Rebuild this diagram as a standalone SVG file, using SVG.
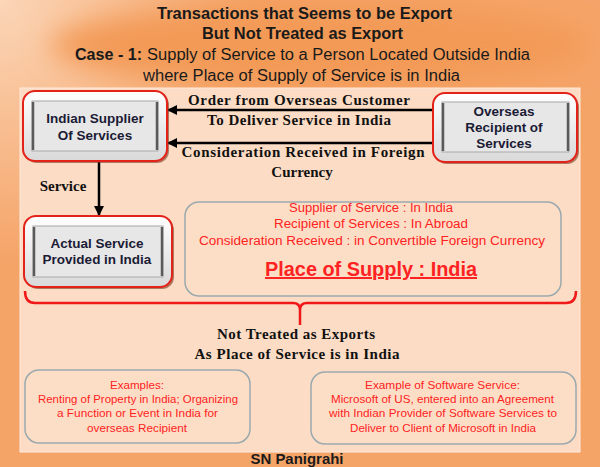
<svg xmlns="http://www.w3.org/2000/svg" width="600" height="467" viewBox="0 0 600 467">
<defs>
  <radialGradient id="bgTL" cx="0" cy="0" r="260" gradientUnits="userSpaceOnUse">
    <stop offset="0" stop-color="#FBD6B8"/>
    <stop offset="1" stop-color="#FBD6B8" stop-opacity="0"/>
  </radialGradient>
  <linearGradient id="nodeOuter" x1="0" y1="0" x2="0" y2="1">
    <stop offset="0" stop-color="#FFFFFF"/>
    <stop offset="1" stop-color="#D9D9D9"/>
  </linearGradient>
  <marker id="ah" markerWidth="10" markerHeight="10" refX="9" refY="5" orient="auto" markerUnits="userSpaceOnUse">
    <path d="M0,0 L10,5 L0,10 Z" fill="#000"/>
  </marker>
  <filter id="blur" x="-30%" y="-80%" width="160%" height="260%">
    <feGaussianBlur stdDeviation="14"/>
  </filter>
</defs>
<style>
  .title { font-family: "Liberation Sans", Arial, sans-serif; font-size: 16px; fill: #1a1a1a; }
  .tb { font-weight: bold; }
  .outer { fill: url(#nodeOuter); stroke: #E3221A; stroke-width: 2; }
  .shadow { fill: #7A3A22; opacity: 0.6; }
  .inner { fill: #E7E7E7; stroke: #A8A8A8; stroke-width: 1; }
  .edge { stroke: #5A5A5A; stroke-width: 2.5; }
  .ntext { font-family: "Liberation Sans", Arial, sans-serif; font-size: 13.5px; font-weight: bold; fill: #1B1B35; text-anchor: middle; }
  .serif { font-family: "Liberation Serif", "Times New Roman", serif; font-size: 15px; font-weight: bold; fill: #111; text-anchor: middle; }
  .conn { stroke: #000; stroke-width: 2.5; fill: none; }
  .box { fill: #FCE0CA; fill-opacity: 0.4; stroke: #9AA9AE; stroke-width: 1.5; }
  .red { font-family: "Liberation Sans", Arial, sans-serif; fill: #FF2222; text-anchor: middle; }
  .r13 { font-size: 12.5px; }
  .r11 { font-size: 11px; }
</style>

<!-- background -->
<rect x="0" y="0" width="600" height="467" fill="#F5A468"/>
<rect x="0" y="0" width="600" height="467" fill="url(#bgTL)"/>
<ellipse cx="320" cy="45" rx="270" ry="42" fill="#F39A57" filter="url(#blur)"/>
<rect x="20" y="88" width="560" height="364" fill="#FCDCC4" stroke="#FDE9DA" stroke-width="1"/>

<!-- title -->
<g id="title">
  <text class="title tb" x="304.5" y="19" text-anchor="middle" textLength="295" lengthAdjust="spacingAndGlyphs">Transactions that Seems to be Export</text>
  <text class="title tb" x="302.5" y="39" text-anchor="middle" textLength="201" lengthAdjust="spacingAndGlyphs">But Not Treated as Export</text>
  <text class="title tb" x="75" y="60" textLength="67" lengthAdjust="spacingAndGlyphs">Case - 1:</text>
  <text class="title" x="147" y="60" textLength="383" lengthAdjust="spacingAndGlyphs">Supply of Service to a Person Located Outside India</text>
  <text class="title" x="143" y="81" textLength="317" lengthAdjust="spacingAndGlyphs">where Place of Supply of Service is in India</text>
</g>

<!-- connectors -->
<g id="connectors">
  <line class="conn" x1="433" y1="110" x2="168" y2="110" marker-end="url(#ah)"/>
  <line class="conn" x1="433" y1="143" x2="168" y2="143" marker-end="url(#ah)"/>
  <line class="conn" x1="99" y1="162" x2="99" y2="215" marker-end="url(#ah)"/>
  <text class="serif" x="299" y="105" textLength="222" lengthAdjust="spacing">Order from Overseas Customer</text>
  <text class="serif" x="299" y="125" textLength="184" lengthAdjust="spacing">To Deliver Service in India</text>
  <text class="serif" x="303" y="157" textLength="243" lengthAdjust="spacing">Consideration Received in Foreign</text>
  <text class="serif" x="302" y="177">Currency</text>
  <text class="serif" x="63" y="191">Service</text>
</g>

<!-- nodes -->
<g id="node-indian-supplier">
  <rect class="shadow" x="25" y="93" width="144" height="70" rx="12"/>
  <rect class="outer" x="23" y="91" width="144" height="70" rx="12"/>
  <rect class="inner" x="32" y="101" width="126" height="50"/>
  <line class="edge" x1="33" y1="102" x2="33" y2="150"/>
  <line class="edge" x1="157" y1="102" x2="157" y2="150"/>
  <text class="ntext" x="95" y="123">Indian Supplier</text>
  <text class="ntext" x="95" y="140">Of Services</text>
</g>

<g id="node-overseas-recipient">
  <rect class="shadow" x="435" y="95" width="144" height="69" rx="12"/>
  <rect class="outer" x="433" y="93" width="144" height="69" rx="12"/>
  <rect class="inner" x="442" y="102" width="127" height="50"/>
  <line class="edge" x1="443" y1="103" x2="443" y2="151"/>
  <line class="edge" x1="568" y1="103" x2="568" y2="151"/>
  <text class="ntext" x="504" y="116">Overseas</text>
  <text class="ntext" x="504" y="132">Recipient of</text>
  <text class="ntext" x="504" y="148">Services</text>
</g>

<g id="node-actual-service">
  <rect class="shadow" x="26" y="218" width="148" height="71" rx="12"/>
  <rect class="outer" x="24" y="216" width="148" height="71" rx="12"/>
  <rect class="inner" x="33" y="226" width="130" height="51"/>
  <line class="edge" x1="34" y1="227" x2="34" y2="276"/>
  <line class="edge" x1="162" y1="227" x2="162" y2="276"/>
  <text class="ntext" x="97" y="248">Actual Service</text>
  <text class="ntext" x="97" y="264">Provided in India</text>
</g>

<g id="node-place-of-supply">
  <rect class="box" x="185" y="202" width="376" height="94" rx="14"/>
  <text class="red r13" x="371" y="212" textLength="164" lengthAdjust="spacingAndGlyphs">Supplier of Service : In  India</text>
  <text class="red r13" x="371" y="228" textLength="194" lengthAdjust="spacingAndGlyphs">Recipient of Services : In Abroad</text>
  <text class="red r13" x="372" y="245" textLength="346" lengthAdjust="spacingAndGlyphs">Consideration Received  : in Convertible Foreign Currency</text>
  <text class="red" x="371" y="276" font-size="20" font-weight="bold" text-decoration="underline" textLength="212" lengthAdjust="spacingAndGlyphs">Place of Supply : India</text>
</g>

<g id="brace">
  <path d="M25,291 Q25,303 35,303 L293,303 Q300,303 300,310 Q300,303 307,303 L566,303 Q576,303 576,291 M300,310 L300,325" fill="none" stroke="#F01818" stroke-width="2.5"/>
</g>

<g id="conclusion">
  <text class="serif" x="296" y="339" textLength="158" lengthAdjust="spacing">Not Treated as Exports</text>
  <text class="serif" x="297" y="359" textLength="205" lengthAdjust="spacing">As Place of Service is in India</text>
</g>

<g id="node-examples">
  <rect class="box" x="25" y="370" width="225" height="73" rx="14"/>
  <text class="red r11" x="137" y="389" textLength="54" lengthAdjust="spacingAndGlyphs">Examples:</text>
  <text class="red r11" x="138" y="403" textLength="200" lengthAdjust="spacingAndGlyphs">Renting of Property in India; Organizing</text>
  <text class="red r11" x="137.5" y="417" textLength="161" lengthAdjust="spacingAndGlyphs">a Function or Event in India  for</text>
  <text class="red r11" x="137" y="432" textLength="100" lengthAdjust="spacingAndGlyphs">overseas Recipient</text>
</g>

<g id="node-software-example">
  <rect class="box" x="311" y="372" width="265" height="72" rx="14"/>
  <text class="red r11" x="442.5" y="389" textLength="155" lengthAdjust="spacingAndGlyphs">Example of Software Service:</text>
  <text class="red r11" x="442.5" y="403" textLength="223" lengthAdjust="spacingAndGlyphs">Microsoft of US, entered into an Agreement</text>
  <text class="red r11" x="443" y="417" textLength="228" lengthAdjust="spacingAndGlyphs">with Indian Provider of Software Services to</text>
  <text class="red r11" x="443" y="432" textLength="186" lengthAdjust="spacingAndGlyphs">Deliver to Client of Microsoft in India</text>
</g>

<text x="297" y="464" text-anchor="middle" font-family="Liberation Sans, Arial, sans-serif" font-size="14" font-weight="bold" fill="#1a1a1a" textLength="93" lengthAdjust="spacingAndGlyphs">SN Panigrahi</text>
</svg>
